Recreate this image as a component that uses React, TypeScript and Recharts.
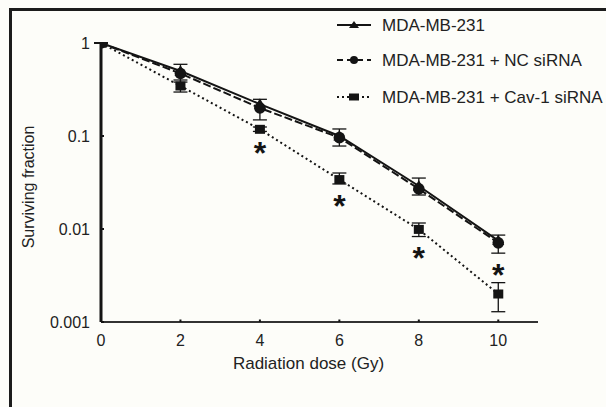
import React from 'react';
import { ComposedChart, Line, Scatter, XAxis, YAxis, ErrorBar, Legend } from 'recharts';

const doses = [0, 2, 4, 6, 8, 10];
const mdaValues = [1, 0.5, 0.22, 0.1, 0.029, 0.0075];
const ncValues = [1, 0.47, 0.2, 0.096, 0.027, 0.0071];
const cavValues = [1, 0.345, 0.118, 0.034, 0.0099, 0.002];
const ncUpper = [1, 0.59, 0.248, 0.119, 0.0353, 0.0086];
const ncLower = [1, 0.38, 0.149, 0.078, 0.0232, 0.0055];
const cavUpper = [1, 0.4, 0.125, 0.04, 0.0116, 0.00265];
const cavLower = [1, 0.297, 0.112, 0.0305, 0.0083, 0.00129];
const starDoses = [4, 6, 8, 10];
const starValues = [0.0743, 0.0201, 0.00556, 0.00362];
const xTicks = [0, 2, 4, 6, 8, 10];
const yTicks = [0.001, 0.01, 0.1, 1];
const seriesNames = ['MDA-MB-231', 'MDA-MB-231 + NC siRNA', 'MDA-MB-231 + Cav-1 siRNA'];
const xTitle = 'Radiation dose (Gy)';
const yTitle = 'Surviving fraction';

const FONT = '"Liberation Sans", Arial, Helvetica, sans-serif';
const INK = '#141414';
const TEXT = '#222';

const table = doses.map((d, i) => ({
  dose: d,
  mda: mdaValues[i],
  nc: ncValues[i],
  cav: cavValues[i],
  ncErr: [ncValues[i] - ncLower[i], ncUpper[i] - ncValues[i]],
  cavErr: [cavValues[i] - cavLower[i], cavUpper[i] - cavValues[i]],
}));

const stars = starDoses.map((d, i) => ({ dose: d, star: starValues[i] }));

const Tri = (p: any) => {
  const { cx, cy } = p;
  if (cx == null || cy == null) return null;
  return <polygon key={`t${p.index}`} points={`${cx},${cy - 6} ${cx - 6},${cy + 4.5} ${cx + 6},${cy + 4.5}`} fill={INK} />;
};
const Circ = (p: any) => {
  const { cx, cy } = p;
  if (cx == null || cy == null) return null;
  return <circle key={`c${p.index}`} cx={cx} cy={cy} r={5.8} fill={INK} />;
};
const Sq = (p: any) => {
  const { cx, cy } = p;
  if (cx == null || cy == null) return null;
  return <rect key={`s${p.index}`} x={cx - 5} y={cy - 4.5} width={10} height={9} fill={INK} />;
};
const Star = (p: any) => {
  const { cx, cy } = p;
  if (cx == null || cy == null) return null;
  return (
    <text x={cx} y={cy + 16} textAnchor="middle" fontSize={32} fontWeight="bold" fill={INK} fontFamily={FONT}>
      *
    </text>
  );
};

const XTick = (p: any) => {
  const { x, y, payload } = p;
  return (
    <g>
      <line x1={x} x2={x} y1={y - 13} y2={y - 15.5} stroke={INK} strokeWidth={2} />
      <text x={x} y={y} dy="0.71em" textAnchor="middle" fontSize={16} fill={TEXT} fontFamily={FONT}>
        {payload.value}
      </text>
    </g>
  );
};
const YTick = (p: any) => {
  const { x, y, payload } = p;
  return (
    <g>
      <line x1={x + 11} x2={x + 14} y1={y} y2={y} stroke={INK} strokeWidth={2} />
      <text x={x} y={y} dy="0.355em" textAnchor="end" fontSize={16} fill={TEXT} fontFamily={FONT}>
        {String(payload.value)}
      </text>
    </g>
  );
};

const legendStyles = [
  { dash: undefined, marker: 'tri' },
  { dash: '6 4', marker: 'circ' },
  { dash: '2 3', marker: 'sq' },
];

const renderLegend = () => (
  <svg width={276} height={112} style={{ display: 'block' }}>
    {seriesNames.map((n, i) => {
      const cy = [25, 60, 97][i];
      const st = legendStyles[i];
      return (
        <g key={n}>
          <line x1={7} x2={41} y1={cy} y2={cy} stroke={INK} strokeWidth={2} strokeDasharray={st.dash} />
          {st.marker === 'tri' && <polygon points={`24,${cy - 4} ${19},${cy + 3} ${29},${cy + 3}`} fill={INK} />}
          {st.marker === 'circ' && <circle cx={24} cy={cy} r={4} fill={INK} />}
          {st.marker === 'sq' && <rect x={19} y={cy - 3.5} width={10} height={7} fill={INK} />}
          <text x={52} y={cy + 6} fontSize={17} fill={TEXT} fontFamily={FONT}>
            {n}
          </text>
        </g>
      );
    })}
  </svg>
);

const XLabel = (p: any) => {
  const vb = p.viewBox || {};
  return (
    <text x={vb.x + vb.width / 2 - 11} y={vb.y + 47} textAnchor="middle" fontSize={17} fill={TEXT} fontFamily={FONT}>
      {xTitle}
    </text>
  );
};
const YLabel = (p: any) => {
  const vb = p.viewBox || {};
  const x = vb.x + 34;
  const y = vb.y + vb.height / 2 + 4.5;
  return (
    <text x={x} y={y} textAnchor="middle" fontSize={16} fill={TEXT} fontFamily={FONT} transform={`rotate(-90, ${x}, ${y})`}>
      {yTitle}
    </text>
  );
};

export default function App() {
  return (
    <div style={{ position: 'fixed', left: 0, top: 0, width: 606, height: 407, background: '#fdfdf9', overflow: 'hidden' }}>
      <div
        style={{
          position: 'absolute',
          left: 9,
          top: 8,
          width: 700,
          height: 500,
          borderTop: '3px solid #1c1c1c',
          borderLeft: '3px solid #1c1c1c',
        }}
      />
      <div style={{ position: 'absolute', left: 0, top: 0 }}>
        <ComposedChart width={606} height={407} data={table} margin={{ top: 43, right: 68, left: 0, bottom: 45 }}>
          <XAxis
            dataKey="dose"
            type="number"
            domain={[0, 11]}
            ticks={xTicks}
            allowDataOverflow
            height={40}
            tickSize={0}
            tickMargin={13}
            tickLine={false}
            axisLine={{ stroke: '#333', strokeWidth: 2 }}
            tick={<XTick />}
            label={<XLabel />}
          />
          <YAxis
            type="number"
            scale="log"
            domain={[0.001, 1]}
            ticks={yTicks}
            allowDataOverflow
            width={101}
            tickSize={0}
            tickMargin={11}
            tickLine={false}
            axisLine={{ stroke: INK, strokeWidth: 3 }}
            tick={<YTick />}
            label={<YLabel />}
          />
          <Legend
            layout="horizontal"
            verticalAlign="middle"
            align="center"
            content={renderLegend}
            wrapperStyle={{ position: 'absolute', top: 0, left: 330, width: 276, height: 112 }}
          />
          <Line
            name={seriesNames[0]}
            dataKey="mda"
            type="linear"
            stroke={INK}
            strokeWidth={2}
            dot={Tri}
            activeDot={false}
            isAnimationActive={false}
          />
          <Line
            name={seriesNames[1]}
            dataKey="nc"
            type="linear"
            stroke={INK}
            strokeWidth={2}
            strokeDasharray="8 3"
            dot={Circ}
            activeDot={false}
            isAnimationActive={false}
          >
            <ErrorBar dataKey="ncErr" direction="y" width={7} stroke={INK} strokeWidth={1.3} isAnimationActive={false} />
          </Line>
          <Line
            name={seriesNames[2]}
            dataKey="cav"
            type="linear"
            stroke={INK}
            strokeWidth={2}
            strokeDasharray="2 3"
            dot={Sq}
            activeDot={false}
            isAnimationActive={false}
          >
            <ErrorBar dataKey="cavErr" direction="y" width={7} stroke={INK} strokeWidth={1.3} isAnimationActive={false} />
          </Line>
          <Scatter data={stars} dataKey="star" shape={Star} legendType="none" isAnimationActive={false} />
        </ComposedChart>
      </div>
    </div>
  );
}
